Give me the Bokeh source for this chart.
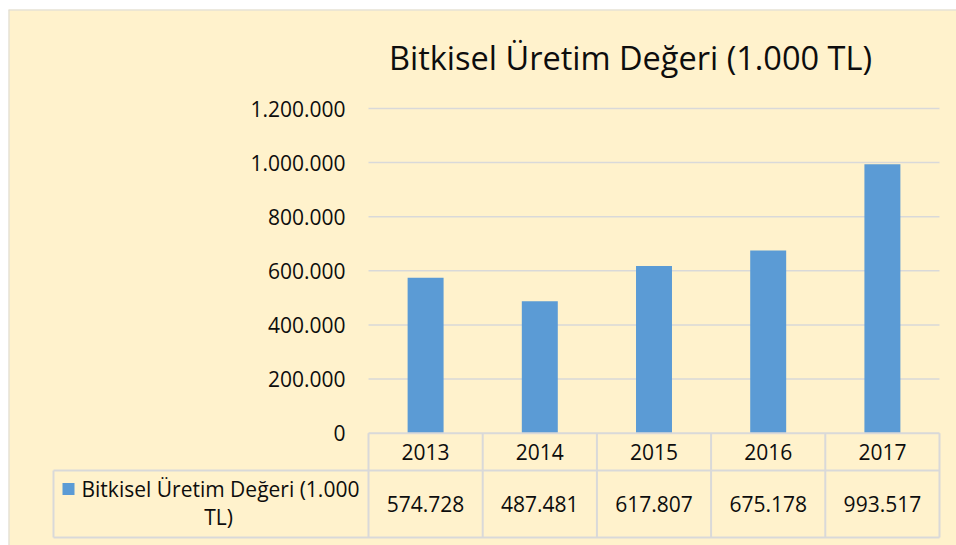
from bokeh.plotting import figure
from bokeh.models import Range1d, FixedTicker, CustomJSTickFormatter, Span
from bokeh.core.properties import value
from bokeh.embed import file_html
from bokeh.resources import INLINE

# ---- data ----
chart_title = "Bitkisel Üretim Değeri (1.000 TL)"
series_name = "Bitkisel Üretim Değeri (1.000 TL)"
years = ["2013", "2014", "2015", "2016", "2017"]
values = [574728, 487481, 617807, 675178, 993517]
y_ticks = [0, 200000, 400000, 600000, 800000, 1000000, 1200000]

# ---- style / layout ----
BG = "#FFF2CC"
BAR = "#5B9BD5"
LINE = "#D9D9D9"
TXT = "#0D0D0D"
FONT = "Open Sans"

W, H = 956, 545
FRAME_X0, FRAME_Y0 = 8, 9     # page position of the chart area's top-left
COL_PX = 114.2                # width of one category column in pixels
PLOT_LEFT_PX = 368.0          # page x of the value axis
ZERO_PX = 432.7               # page y of value 0
TOP_PX = 108.0                # page y of the top tick
YMAX = y_ticks[-1]
UPP_Y = YMAX / (ZERO_PX - TOP_PX)


def dx(px):
    return (px - PLOT_LEFT_PX) / COL_PX


def dy(py):
    return (ZERO_PX - py) * UPP_Y


def fmt(v):
    return f"{v:,}".replace(",", ".")


n = len(years)
centers = [i + 0.5 for i in range(n)]

p = figure(width=W, height=H,
           x_range=Range1d(dx(FRAME_X0), dx(W)),
           y_range=Range1d(dy(H), dy(FRAME_Y0)),
           x_axis_type=None, tools="", toolbar_location=None,
           output_backend="svg",
           min_border_left=FRAME_X0, min_border_top=FRAME_Y0,
           min_border_right=0, min_border_bottom=0,
           background_fill_color=BG, border_fill_color="white",
           outline_line_color=None)

p.xgrid.visible = False
p.ygrid.visible = False

# chart border (top and left edges visible in the window)
p.add_layout(Span(location=dx(FRAME_X0), dimension="height",
                  line_color=LINE, line_width=2))
p.add_layout(Span(location=dy(FRAME_Y0), dimension="width",
                  line_color=LINE, line_width=2))

# value axis at the left edge of the plot area
ax = p.yaxis[0]
ax.fixed_location = 0
ax.ticker = FixedTicker(ticks=y_ticks)
ax.formatter = CustomJSTickFormatter(
    code="return tick.toFixed(0).replace(/\\B(?=(\\d{3})+(?!\\d))/g, '.');")
ax.axis_line_color = None
ax.major_tick_line_color = None
ax.minor_tick_line_color = None
ax.major_tick_out = 0
ax.major_tick_in = 0
ax.minor_tick_out = 0
ax.minor_tick_in = 0
ax.major_label_standoff = 23
ax.major_label_text_font = FONT
ax.major_label_text_font_size = "21px"
ax.major_label_text_color = TXT

# gridlines
grid_ticks = [t for t in y_ticks if t > 0]
p.segment(x0=[0] * len(grid_ticks), x1=[n] * len(grid_ticks),
          y0=grid_ticks, y1=grid_ticks, line_color=LINE, line_width=1.5)

# bars
p.vbar(x=centers, top=values, bottom=0, width=0.315,
       fill_color=BAR, line_color=None)

# data table
row1 = dy(470.0)
tbottom = dy(537.0)
leg_left = dx(53.0)
p.segment(x0=[0, leg_left, leg_left], x1=[n, n, n],
          y0=[0, row1, tbottom], y1=[0, row1, tbottom],
          line_color=LINE, line_width=2)
p.segment(x0=list(range(n + 1)), x1=list(range(n + 1)),
          y0=[0] * (n + 1), y1=[tbottom] * (n + 1),
          line_color=LINE, line_width=2)
p.segment(x0=[leg_left], x1=[leg_left], y0=[row1], y1=[tbottom],
          line_color=LINE, line_width=2)

p.text(x=centers, y=[dy(451.5)] * n, text=years,
       text_font=value(FONT), text_font_size="21px", text_color=TXT,
       text_align="center", text_baseline="middle")
p.text(x=centers, y=[dy(503.5)] * n, text=[fmt(v) for v in values],
       text_font=value(FONT), text_font_size="21px", text_color=TXT,
       text_align="center", text_baseline="middle")

# legend key + series name in the table
words = series_name.split(" ")
line1 = " ".join(words[:-1])
line2 = words[-1]
p.scatter(x=[dx(68.0)], y=[dy(488.5)], marker="square", size=12,
          fill_color=BAR, line_color=None)
p.text(x=[dx(81.0)], y=[dy(488.5)], text=[line1],
       text_font=value(FONT), text_font_size="21px", text_color=TXT,
       text_align="left", text_baseline="middle")
p.text(x=[dx(218.0)], y=[dy(516.0)], text=[line2],
       text_font=value(FONT), text_font_size="21px", text_color=TXT,
       text_align="center", text_baseline="middle")

# chart title
p.text(x=[dx(630.0)], y=[dy(57.0)], text=[chart_title],
       text_font=value(FONT), text_font_size="32.5px", text_color=TXT,
       text_align="center", text_baseline="middle")

open("out.html", "w").write(file_html(p, INLINE))
